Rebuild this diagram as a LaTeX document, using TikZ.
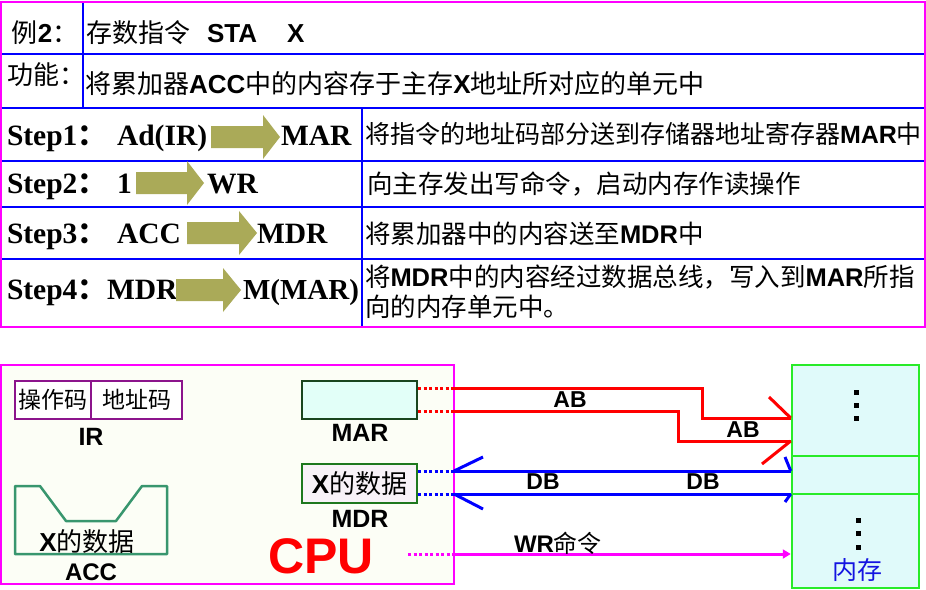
\documentclass[tikz,border=0pt]{standalone}
\usepackage{fontspec}
\setmainfont{Liberation Sans}
\newfontfamily\cjk{Noto Sans CJK SC}
\newfontfamily\tnr{Liberation Serif}
\usetikzlibrary{arrows.meta}
\newcommand\B[1]{{\normalfont\bfseries #1}}
\newcommand\fs[1]{\fontsize{#1}{#1}\selectfont}
\definecolor{olivea}{RGB}{170,170,88}
\definecolor{tblue}{RGB}{0,0,255}
\definecolor{mag}{RGB}{255,0,255}
\definecolor{cpufill}{RGB}{252,254,246}
\definecolor{memgreen}{RGB}{40,235,40}
\definecolor{memfill}{RGB}{224,250,250}
\definecolor{marfill}{RGB}{226,255,248}
\definecolor{mardraw}{RGB}{25,70,30}
\definecolor{mdrfill}{RGB}{248,242,248}
\definecolor{mdrdraw}{RGB}{30,120,30}
\definecolor{irdraw}{RGB}{140,20,140}
\definecolor{accdraw}{RGB}{56,150,110}
\definecolor{memtext}{RGB}{20,20,225}
\definecolor{busred}{RGB}{255,0,0}
\definecolor{busblue}{RGB}{0,0,255}
\newcommand\olivearrow[4]{%
  \fill[olivea] (#1,#4-11) -- (#2,#4-11) -- (#2,#4-22) -- (#3,#4) -- (#2,#4+22) -- (#2,#4+11) -- (#1,#4+11) -- cycle;}
\begin{document}
\begin{tikzpicture}[x=1pt,y=-1pt,
  txt/.style={anchor=base west, inner sep=0pt, outer sep=0pt},
  cj/.style={txt, font=\cjk\fs{25.5}},
  cjb/.style={txt, font=\cjk\fs{26}},
  stp/.style={txt, font=\tnr\bfseries\fs{29.5}},
  lbl/.style={anchor=base, inner sep=0pt, font=\bfseries\fs{24}},
  bus/.style={line width=3pt},
  dots/.style={line width=3pt, dash pattern=on 3pt off 2.5pt},
  tline/.style={tblue, line width=2pt},
  regbox/.style={draw, line width=2pt, inner sep=0pt},
  membox/.style={draw=memgreen, fill=memfill, line width=2.5pt, minimum width=127, inner sep=0pt},
  msq/.style={fill=black, minimum size=5, inner sep=0pt}
]
\useasboundingbox (0,0) rectangle (926,589);
\fill[white] (0,0) rectangle (926,589);

% ---------------- table ----------------
\foreach \yy in {54,108,161,207,259} \draw[tline] (1,\yy) -- (925,\yy);
\draw[tline] (83,2) -- (83,108);
\draw[tline] (362,108) -- (362,327);
\draw[mag, line width=2pt] (1,2) rectangle (925,327);

\node[cjb] (ex) at (12,42) {例\B{2}：};
\node[cjb] (ex1) at (86,42) {存数指令};
\node[txt, font=\bfseries\fs{26}] (ex2) at (207,42) {STA};
\node[txt, font=\bfseries\fs{26}] (ex3) at (287,42) {X};
\node[cjb] (fn) at (8,84) {功能：};
\node[cjb] (fn1) at (85,93) {将累加器\B{ACC}中的内容存于主存\B{X}地址所对应的单元中};

\node[stp] (s1) at (7,145) {Step1{\cjk ：}};
\node[stp] (s1a) at (117,145) {Ad(IR)};
\node[stp] (s1b) at (281,145) {MAR};
\node[cj, font=\cjk\fs{25}] (s1t) at (365,143) {将指令的地址码部分送到存储器地址寄存器\B{MAR}中};

\node[stp] (s2) at (7,193) {Step2{\cjk ：}};
\node[stp] (s2a) at (117,193) {1};
\node[stp] (s2b) at (207,193) {WR};
\node[cj] (s2t) at (367,193) {向主存发出写命令，启动内存作读操作};

\node[stp] (s3) at (7,243) {Step3{\cjk ：}};
\node[stp] (s3a) at (117,243) {ACC};
\node[stp] (s3b) at (257,243) {MDR};
\node[cj] (s3t) at (365,243) {将累加器中的内容送至\B{MDR}中};

\node[stp] (s4) at (7,299) {Step4{\cjk ：}};
\node[stp] (s4a) at (107,299) {MDR};
\node[stp, font=\tnr\bfseries\fs{29}] (s4b) at (243,299) {M(MAR)};
\node[cj] (s4t) at (365,286) {将\B{MDR}中的内容经过数据总线，写入到\B{MAR}所指};
\node[cj] (s4u) at (365,316) {向的内存单元中。};

\olivearrow{211}{263}{280}{137}
\olivearrow{136}{187}{204}{183}
\olivearrow{187}{239}{257}{233}
\olivearrow{176}{223}{241}{290}

% ---------------- lower diagram ----------------
\draw[mag, line width=2pt, fill=cpufill] (1,365) rectangle (454,584);

% memory
\node[membox, minimum height=91] (m1) at (855.5,410.5) {};
\node[membox, minimum height=38] (m2) at (855.5,475) {};
\node[membox, minimum height=94] (m3) at (855.5,541) {};
\node[msq] (d1) at (856,392) {};
\node[msq] (d2) at (856,405) {};
\node[msq] (d3) at (856,418) {};
\node[msq] (d4) at (858,520) {};
\node[msq] (d5) at (858,533) {};
\node[msq] (d6) at (858,547) {};
\node[anchor=base, inner sep=0pt, font=\cjk\fs{25}, text=memtext] (mem) at (857,579) {内存};

% IR
\node[regbox, draw=irdraw, fill=white, minimum width=76, minimum height=38, font=\cjk\fs{23}] (op) at (53,400) {操作码};
\node[regbox, draw=irdraw, fill=white, minimum width=91, minimum height=38, font=\cjk\fs{23}] (ad) at (136.5,400) {地址码};
\node[lbl, font=\bfseries\fs{25}] (irl) at (91,445) {IR};

% ACC
\draw[accdraw, line width=2.5pt, line join=round] (15,486) -- (40,486) -- (66,521) -- (116,521) -- (142,486) -- (167,486) -- (167,554) -- (15,554) -- cycle;
\node[anchor=base, inner sep=0pt, font=\cjk\fs{26}] (accx) at (87,551) {\B{X}的数据};
\node[lbl] (accl) at (91,580) {ACC};

% MAR / MDR
\node[regbox, draw=mardraw, fill=marfill, minimum width=115, minimum height=38] (mar) at (359.5,400) {};
\node[lbl, font=\bfseries\fs{25}] (marl) at (360,441) {MAR};
\node[regbox, draw=mdrdraw, fill=mdrfill, minimum width=115, minimum height=39, font=\cjk\fs{26}] (mdr) at (359.5,483.5) {\B{X}的数据};
\node[lbl, font=\bfseries\fs{25}] (mdrl) at (360,527) {MDR};

\node[anchor=base, inner sep=0pt, font=\bfseries\fs{50}, text=red] (cpu) at (321,573) {CPU};

% coordinates for buses
\coordinate (a1s) at (mar.east |- 0,388);
\coordinate (a1e) at (454,388);
\coordinate (a2s) at (mar.east |- 0,411);
\coordinate (a2e) at (454,411);
\coordinate (b1s) at (mdr.east |- 0,471);
\coordinate (b1e) at (454,471);
\coordinate (b2s) at (mdr.east |- 0,494);
\coordinate (b2e) at (454,494);
\coordinate (ws) at (408,554);
\coordinate (we) at (454,554);

% AB
\draw[busred, dots] (a1s) -- (a1e);
\draw[busred, dots] (a2s) -- (a2e);
\draw[busred, bus, line join=miter] (a1e) -- (702,388) -- (702,418) -- (m1.west |- 0,418);
\draw[busred, bus, line join=miter] (a2e) -- (678,411) -- (678,441) -- (m1.west |- 0,441);
\draw[busred, bus] (769,397) -- (m1.west |- 0,418);
\draw[busred, bus] (m1.west |- 0,441) -- (762,464);
\node[lbl, font=\bfseries\fs{23}] (ab1) at (570,407) {AB};
\node[lbl, font=\bfseries\fs{23}] (ab2) at (743,437) {AB};

% DB
\draw[busblue, dots] (b1s) -- (b1e);
\draw[busblue, dots] (b2s) -- (b2e);
\draw[busblue, bus] (b1e) -- (m2.west |- 0,471);
\draw[busblue, bus] (b2e) -- (m2.west |- 0,494);
\draw[busblue, bus] (b1e) -- (483,457);
\draw[busblue, bus] (b2e) -- (483,509);
\draw[busblue, bus] (785,457) -- (m2.west |- 0,471);
\draw[busblue, bus] (m2.west |- 0,494) -- (785,502);
\node[lbl, font=\bfseries\fs{23}] (db1) at (543,489) {DB};
\node[lbl, font=\bfseries\fs{23}] (db2) at (703,489) {DB};

% WR
\draw[mag, dots] (ws) -- (we);
\draw[mag, line width=3pt, -{Triangle[length=8pt,width=9pt]}] (we) -- (m3.west |- 0,554);
\node[anchor=base, inner sep=0pt, font=\cjk\fs{24}] (wr) at (558,552) {\B{WR}命令};
\end{tikzpicture}
\end{document}
